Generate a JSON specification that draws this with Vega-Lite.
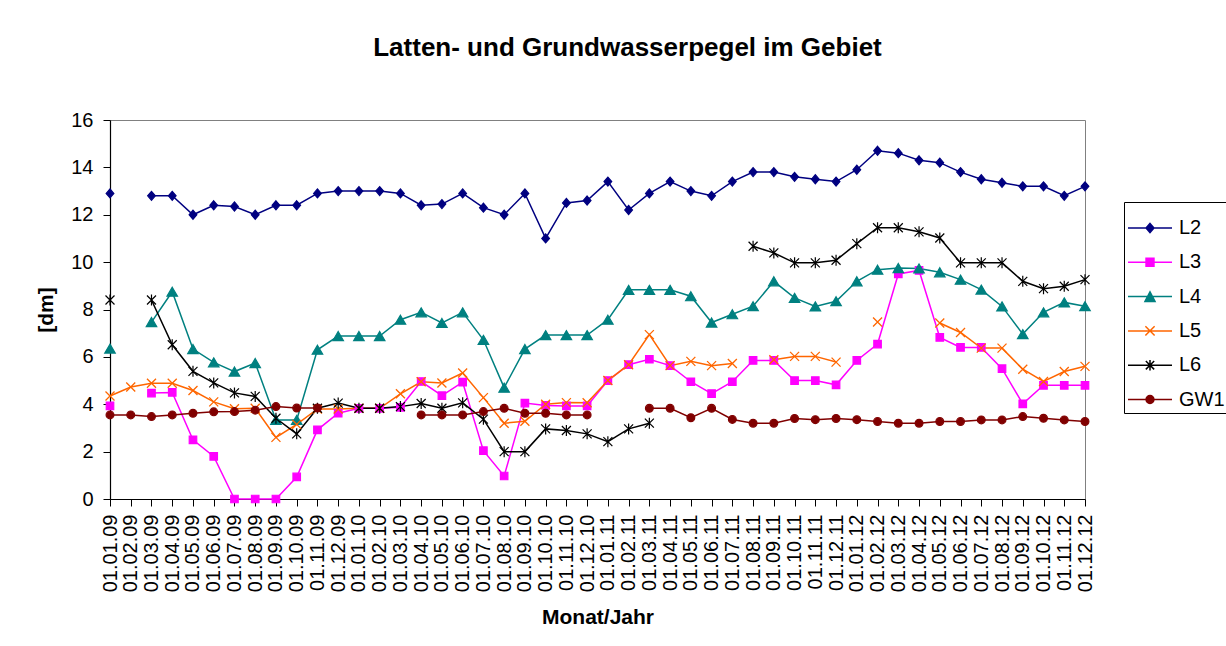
{
  "$schema": "https://vega.github.io/schema/vega-lite/v6.json",
  "autosize": {"type": "none"},
  "width": 975,
  "height": 379,
  "padding": {"left": 110, "top": 120, "right": 141, "bottom": 147},
  "background": "white",
  "title": {
    "text": "Latten- und Grundwasserpegel im Gebiet",
    "font": "Liberation Sans",
    "fontSize": 26,
    "fontWeight": "bold",
    "color": "black",
    "anchor": "middle",
    "dx": 30,
    "offset": 49
  },
  "config": {
    "font": "Liberation Sans",
    "view": {"stroke": "#808080", "strokeWidth": 1},
    "axis": {
      "labelFont": "Liberation Sans",
      "labelFontSize": 20,
      "labelColor": "black",
      "titleFont": "Liberation Sans",
      "titleFontSize": 21,
      "titleFontWeight": "bold",
      "titleColor": "black",
      "domainColor": "black",
      "domainWidth": 1.2,
      "tickColor": "black",
      "tickSize": 7,
      "grid": false
    },
    "legend": {
      "labelFont": "Liberation Sans",
      "labelFontSize": 20,
      "labelColor": "black"
    }
  },
  "data": {
    "values": [
      {"m": "01.01.09", "L2": 12.9, "L3": 3.93, "L4": 6.35, "L5": 4.35, "L6": 8.4, "GW1": 3.55},
      {"m": "01.02.09", "L2": null, "L3": null, "L4": null, "L5": 4.73, "L6": null, "GW1": 3.55},
      {"m": "01.03.09", "L2": 12.8, "L3": 4.47, "L4": 7.47, "L5": 4.89, "L6": 8.4, "GW1": 3.48},
      {"m": "01.04.09", "L2": 12.8, "L3": 4.5, "L4": 8.75, "L5": 4.89, "L6": 6.51, "GW1": 3.55},
      {"m": "01.05.09", "L2": 12.0, "L3": 2.5, "L4": 6.33, "L5": 4.58, "L6": 5.39, "GW1": 3.62},
      {"m": "01.06.09", "L2": 12.4, "L3": 1.8, "L4": 5.77, "L5": 4.1, "L6": 4.9, "GW1": 3.68},
      {"m": "01.07.09", "L2": 12.35, "L3": 0, "L4": 5.38, "L5": 3.81, "L6": 4.48, "GW1": 3.69},
      {"m": "01.08.09", "L2": 12.0, "L3": 0, "L4": 5.74, "L5": 3.83, "L6": 4.33, "GW1": 3.75},
      {"m": "01.09.09", "L2": 12.4, "L3": 0, "L4": 3.34, "L5": 2.6, "L6": 3.41, "GW1": 3.9},
      {"m": "01.10.09", "L2": 12.4, "L3": 0.93, "L4": 3.34, "L5": 3.15, "L6": 2.75, "GW1": 3.84},
      {"m": "01.11.09", "L2": 12.9, "L3": 2.92, "L4": 6.3, "L5": 3.8, "L6": 3.83, "GW1": 3.84},
      {"m": "01.12.09", "L2": 13.0, "L3": 3.62, "L4": 6.88, "L5": 3.8, "L6": 4.05, "GW1": null},
      {"m": "01.01.10", "L2": 13.0, "L3": 3.83, "L4": 6.88, "L5": 3.83, "L6": 3.83, "GW1": null},
      {"m": "01.02.10", "L2": 13.0, "L3": 3.83, "L4": 6.88, "L5": 3.83, "L6": 3.83, "GW1": null},
      {"m": "01.03.10", "L2": 12.9, "L3": 3.87, "L4": 7.57, "L5": 4.44, "L6": 3.9, "GW1": null},
      {"m": "01.04.10", "L2": 12.4, "L3": 4.96, "L4": 7.88, "L5": 4.95, "L6": 4.03, "GW1": 3.55},
      {"m": "01.05.10", "L2": 12.45, "L3": 4.36, "L4": 7.43, "L5": 4.9, "L6": 3.83, "GW1": 3.55},
      {"m": "01.06.10", "L2": 12.9, "L3": 4.93, "L4": 7.88, "L5": 5.32, "L6": 4.06, "GW1": 3.55},
      {"m": "01.07.10", "L2": 12.3, "L3": 2.04, "L4": 6.72, "L5": 4.28, "L6": 3.37, "GW1": 3.69},
      {"m": "01.08.10", "L2": 12.0, "L3": 0.97, "L4": 4.7, "L5": 3.2, "L6": 2.0, "GW1": 3.83},
      {"m": "01.09.10", "L2": 12.9, "L3": 4.05, "L4": 6.33, "L5": 3.28, "L6": 2.0, "GW1": 3.62},
      {"m": "01.10.10", "L2": 11.0, "L3": 3.95, "L4": 6.92, "L5": 4.0, "L6": 2.96, "GW1": 3.62},
      {"m": "01.11.10", "L2": 12.5, "L3": 3.93, "L4": 6.92, "L5": 4.07, "L6": 2.89, "GW1": 3.55},
      {"m": "01.12.10", "L2": 12.6, "L3": 3.93, "L4": 6.92, "L5": 4.06, "L6": 2.75, "GW1": 3.55},
      {"m": "01.01.11", "L2": 13.4, "L3": 5.0, "L4": 7.57, "L5": 5.0, "L6": 2.42, "GW1": null},
      {"m": "01.02.11", "L2": 12.2, "L3": 5.67, "L4": 8.83, "L5": 5.67, "L6": 2.96, "GW1": null},
      {"m": "01.03.11", "L2": 12.9, "L3": 5.9, "L4": 8.83, "L5": 6.94, "L6": 3.2, "GW1": 3.83},
      {"m": "01.04.11", "L2": 13.4, "L3": 5.63, "L4": 8.83, "L5": 5.63, "L6": null, "GW1": 3.83},
      {"m": "01.05.11", "L2": 13.0, "L3": 4.95, "L4": 8.56, "L5": 5.81, "L6": null, "GW1": 3.43},
      {"m": "01.06.11", "L2": 12.8, "L3": 4.45, "L4": 7.45, "L5": 5.63, "L6": null, "GW1": 3.83},
      {"m": "01.07.11", "L2": 13.4, "L3": 4.95, "L4": 7.8, "L5": 5.72, "L6": null, "GW1": 3.36},
      {"m": "01.08.11", "L2": 13.8, "L3": 5.85, "L4": 8.14, "L5": null, "L6": 10.67, "GW1": 3.2},
      {"m": "01.09.11", "L2": 13.8, "L3": 5.85, "L4": 9.19, "L5": 5.88, "L6": 10.39, "GW1": 3.2},
      {"m": "01.10.11", "L2": 13.6, "L3": 5.0, "L4": 8.49, "L5": 6.02, "L6": 9.97, "GW1": 3.4},
      {"m": "01.11.11", "L2": 13.5, "L3": 5.0, "L4": 8.13, "L5": 6.02, "L6": 9.97, "GW1": 3.35},
      {"m": "01.12.11", "L2": 13.4, "L3": 4.82, "L4": 8.35, "L5": 5.78, "L6": 10.08, "GW1": 3.4},
      {"m": "01.01.12", "L2": 13.9, "L3": 5.85, "L4": 9.19, "L5": null, "L6": 10.78, "GW1": 3.35},
      {"m": "01.02.12", "L2": 14.7, "L3": 6.54, "L4": 9.68, "L5": 7.47, "L6": 11.45, "GW1": 3.27},
      {"m": "01.03.12", "L2": 14.6, "L3": 9.5, "L4": 9.75, "L5": null, "L6": 11.45, "GW1": 3.2},
      {"m": "01.04.12", "L2": 14.3, "L3": 9.65, "L4": 9.73, "L5": null, "L6": 11.28, "GW1": 3.2},
      {"m": "01.05.12", "L2": 14.2, "L3": 6.82, "L4": 9.57, "L5": 7.43, "L6": 11.02, "GW1": 3.27},
      {"m": "01.06.12", "L2": 13.8, "L3": 6.4, "L4": 9.26, "L5": 7.03, "L6": 9.97, "GW1": 3.27},
      {"m": "01.07.12", "L2": 13.5, "L3": 6.4, "L4": 8.84, "L5": 6.37, "L6": 9.97, "GW1": 3.34},
      {"m": "01.08.12", "L2": 13.35, "L3": 5.5, "L4": 8.13, "L5": 6.37, "L6": 9.97, "GW1": 3.34},
      {"m": "01.09.12", "L2": 13.2, "L3": 4.02, "L4": 6.96, "L5": 5.48, "L6": 9.19, "GW1": 3.48},
      {"m": "01.10.12", "L2": 13.2, "L3": 4.8, "L4": 7.88, "L5": 4.96, "L6": 8.88, "GW1": 3.41},
      {"m": "01.11.12", "L2": 12.8, "L3": 4.8, "L4": 8.3, "L5": 5.38, "L6": 8.98, "GW1": 3.34},
      {"m": "01.12.12", "L2": 13.2, "L3": 4.8, "L4": 8.14, "L5": 5.6, "L6": 9.26, "GW1": 3.27}
    ]
  },
  "transform": [
    {"fold": ["L2", "L3", "L4", "L5", "L6", "GW1"], "as": ["series", "value"]}
  ],
  "encoding": {
    "x": {
      "field": "m",
      "type": "ordinal",
      "sort": null,
      "scale": {"type": "point", "padding": 0},
      "axis": {
        "title": "Monat/Jahr",
        "labelAngle": 270,
        "labelPadding": 8,
        "labelOverlap": false,
        "labelBound": false,
        "titlePadding": 15
      }
    },
    "y": {
      "field": "value",
      "type": "quantitative",
      "scale": {"domain": [0, 16], "nice": false, "zero": false},
      "axis": {
        "title": "[dm]",
        "values": [0, 2, 4, 6, 8, 10, 12, 14, 16],
        "labelPadding": 10,
        "titlePadding": 14
      }
    }
  },
  "layer": [
    {
      "mark": {"type": "line", "strokeWidth": 1.5, "invalid": "break-paths-show-domains"},
      "encoding": {
        "color": {
          "field": "series",
          "type": "nominal",
          "scale": {
            "domain": ["L2", "L3", "L4", "L5", "L6", "GW1"],
            "range": ["#000080", "#FF00FF", "#008080", "#FF6600", "#000000", "#800000"]
          },
          "legend": {
            "title": null,
            "orient": "none",
            "legendX": 1014,
            "legendY": 82,
            "strokeColor": "black",
            "fillColor": "white",
            "padding": 3,
            "symbolSize": 1936,
            "symbolStrokeWidth": 1.5,
            "labelOffset": 6,
            "rowPadding": 1.3
          }
        }
      }
    },
    {
      "transform": [{"filter": "datum.series === 'L2'"}],
      "mark": {"type": "point", "shape": "M0,-0.9L0.77,0L0,0.9L-0.77,0Z", "size": 100, "filled": true, "fill": "#000080", "stroke": "#000080", "strokeWidth": 1.2, "opacity": 1}
    },
    {
      "transform": [{"filter": "datum.series === 'L3'"}],
      "mark": {"type": "point", "shape": "M-0.75,-0.75H0.75V0.75H-0.75Z", "size": 100, "filled": true, "fill": "#FF00FF", "stroke": "#FF00FF", "strokeWidth": 1.2, "opacity": 1}
    },
    {
      "transform": [{"filter": "datum.series === 'L4'"}],
      "mark": {"type": "point", "shape": "M0,-0.9L1.05,0.9H-1.05Z", "size": 100, "filled": true, "fill": "#008080", "stroke": "#008080", "strokeWidth": 1.2, "opacity": 1}
    },
    {
      "transform": [{"filter": "datum.series === 'L5'"}],
      "mark": {"type": "point", "shape": "M-0.9,-0.9L0.9,0.9M-0.9,0.9L0.9,-0.9", "size": 100, "filled": false, "stroke": "#FF6600", "strokeWidth": 1.3, "opacity": 1}
    },
    {
      "transform": [{"filter": "datum.series === 'L6'"}],
      "mark": {"type": "point", "shape": "M-0.9,-0.9L0.9,0.9M-0.9,0.9L0.9,-0.9M0,-1.1V1.1", "size": 100, "filled": false, "stroke": "#000000", "strokeWidth": 1.2, "opacity": 1}
    },
    {
      "transform": [{"filter": "datum.series === 'GW1'"}],
      "mark": {"type": "point", "shape": "M0.78,0A0.78,0.78 0 1,1 -0.78,0A0.78,0.78 0 1,1 0.78,0Z", "size": 100, "filled": true, "fill": "#800000", "stroke": "#800000", "strokeWidth": 1.2, "opacity": 1}
    },
    {
      "transform": [{"filter": "datum.value > 100"}],
      "mark": {"type": "point", "filled": true, "opacity": 1, "strokeWidth": 1.5},
      "encoding": {
        "color": {"field": "series", "type": "nominal"},
        "stroke": {
          "field": "series",
          "type": "nominal",
          "scale": {
            "domain": ["L2", "L3", "L4", "L5", "L6", "GW1"],
            "range": ["#000080", "#FF00FF", "#008080", "#FF6600", "#000000", "#800000"]
          },
          "legend": null
        },
        "shape": {
          "field": "series",
          "type": "nominal",
          "scale": {
            "domain": ["L2", "L3", "L4", "L5", "L6", "GW1"],
            "range": [
              "M-1,0H1M0,-0.21L0.18,0L0,0.21L-0.18,0Z",
              "M-1,0H1M-0.18,-0.18H0.18V0.18H-0.18Z",
              "M-1,0H1M0,-0.22L0.23,0.22H-0.23Z",
              "M-1,0H1M-0.21,-0.21L0.21,0.21M-0.21,0.21L0.21,-0.21",
              "M-1,0H1M-0.19,-0.19L0.19,0.19M-0.19,0.19L0.19,-0.19M0,-0.24V0.24",
              "M-1,0H1M0.18,0A0.18,0.18 0 1,1 -0.18,0A0.18,0.18 0 1,1 0.18,0Z"
            ]
          }
        }
      }
    }
  ]
}
